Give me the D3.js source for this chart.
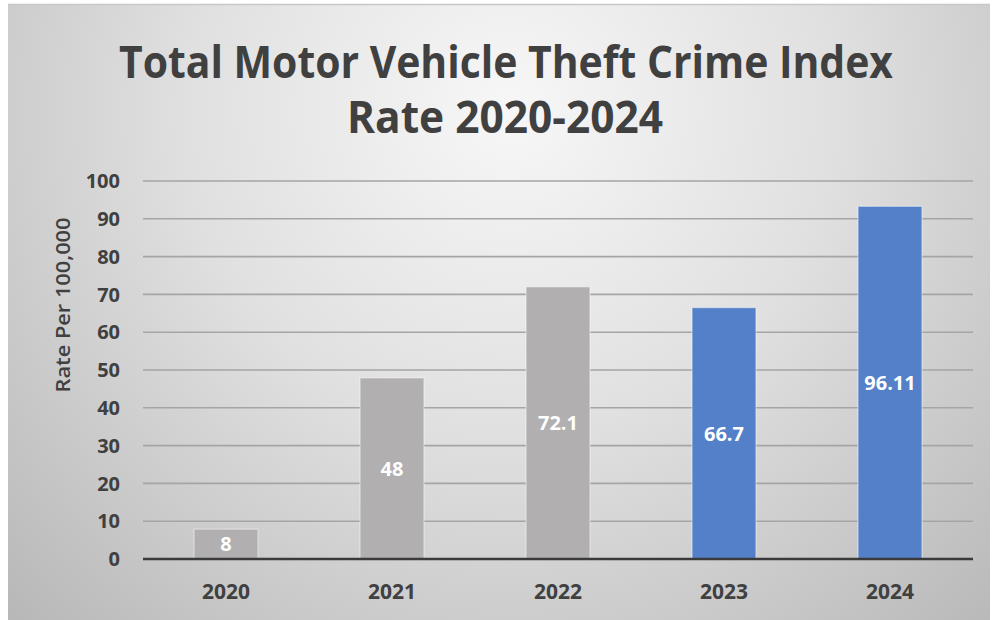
<!DOCTYPE html>
<html>
<head>
<meta charset="utf-8">
<script src="https://cdn.jsdelivr.net/npm/d3@7"></script>
<style>
  body { margin: 0; background: #fff; }
  svg { display: block; }
</style>
</head>
<body>
<script>
let w = 992;
let h = 620;

// Data
let years = ["2020", "2021", "2022", "2023", "2024"];
let rates = [7.9, 47.9, 72.0, 66.5, 93.3];      // bar heights as drawn
let labels = ["8", "48", "72.1", "66.7", "96.11"]; // data labels as printed
let barColors = ["#b1afaf", "#b1afaf", "#b1afaf", "#5380c8", "#5380c8"];
let yTicks = [0, 10, 20, 30, 40, 50, 60, 70, 80, 90, 100];

let margin = {top: 181, right: 19, bottom: 61, left: 143};

let svg = d3.select("body")
  .append("svg")
  .attr("width", w)
  .attr("height", h);

// Background gradient
let defs = svg.append("defs");
let grad = defs.append("radialGradient")
  .attr("id", "bg")
  .attr("gradientUnits", "userSpaceOnUse")
  .attr("cx", 510).attr("cy", 110)
  .attr("r", 720);
grad.append("stop").attr("offset", "0%").attr("stop-color", "#f7f7f7");
grad.append("stop").attr("offset", "45%").attr("stop-color", "#e0e0e0");
grad.append("stop").attr("offset", "100%").attr("stop-color", "#b7b7b7");

svg.append("rect")
  .attr("x", 8).attr("y", 4)
  .attr("width", 982).attr("height", 616)
  .attr("fill", "url(#bg)");
svg.append("line")
  .attr("x1", 8).attr("x2", 990)
  .attr("y1", 4.5).attr("y2", 4.5)
  .attr("stroke", "#c8c8c8")
  .attr("stroke-width", 1.5);

// Scales
let xScale = d3.scaleBand()
  .domain(years)
  .range([margin.left, w - margin.right])
  .paddingInner(0.615)
  .paddingOuter(0.3075);

let yScale = d3.scaleLinear()
  .domain([0, 100])
  .range([h - margin.bottom, margin.top]);

// Gridlines
svg.append("g")
  .selectAll("line")
  .data(yTicks.filter(d => d > 0))
  .enter()
  .append("line")
  .attr("x1", margin.left)
  .attr("x2", w - margin.right)
  .attr("y1", d => yScale(d))
  .attr("y2", d => yScale(d))
  .attr("stroke", "#a5a5a5")
  .attr("stroke-width", 1.6);

// Bars
svg.append("g")
  .selectAll("rect")
  .data(rates)
  .enter()
  .append("rect")
  .attr("x", (d, i) => xScale(years[i]))
  .attr("y", d => yScale(d))
  .attr("width", xScale.bandwidth())
  .attr("height", d => yScale(0) - yScale(d))
  .attr("fill", (d, i) => barColors[i])
  .attr("stroke", "rgba(255,255,255,0.45)")
  .attr("stroke-width", 1.2);

// Baseline
svg.append("line")
  .attr("x1", margin.left)
  .attr("x2", w - margin.right)
  .attr("y1", yScale(0))
  .attr("y2", yScale(0))
  .attr("stroke", "#3a3a3a")
  .attr("stroke-width", 2.6);

// Data labels, centred in the bar
svg.append("g")
  .selectAll("text")
  .data(rates)
  .enter()
  .append("text")
  .text((d, i) => labels[i])
  .attr("x", (d, i) => xScale(years[i]) + xScale.bandwidth() / 2)
  .attr("y", d => (yScale(d) + yScale(0)) / 2)
  .attr("dy", "0.36em")
  .attr("text-anchor", "middle")
  .attr("font-family", "'Open Sans', sans-serif")
  .attr("font-weight", "bold")
  .attr("font-size", "20px")
  .attr("fill", "#ffffff");

// Y tick labels
svg.append("g")
  .selectAll("text")
  .data(yTicks)
  .enter()
  .append("text")
  .text(d => d)
  .attr("x", 120)
  .attr("y", d => yScale(d))
  .attr("dy", "0.36em")
  .attr("text-anchor", "end")
  .attr("font-family", "'Open Sans', sans-serif")
  .attr("font-weight", "bold")
  .attr("font-size", "20px")
  .attr("fill", "#404040");

// X tick labels
svg.append("g")
  .selectAll("text")
  .data(years)
  .enter()
  .append("text")
  .text(d => d)
  .attr("x", d => xScale(d) + xScale.bandwidth() / 2)
  .attr("y", 591)
  .attr("dy", "0.36em")
  .attr("text-anchor", "middle")
  .attr("font-family", "'Open Sans', sans-serif")
  .attr("font-weight", "bold")
  .attr("font-size", "21px")
  .attr("fill", "#404040");

// Y axis title
svg.append("text")
  .text("Rate Per 100,000")
  .attr("transform", "translate(63,305) rotate(-90)")
  .attr("dy", "0.36em")
  .attr("text-anchor", "middle")
  .attr("textLength", 175)
  .attr("lengthAdjust", "spacingAndGlyphs")
  .attr("font-family", "'Open Sans', sans-serif")
  .attr("font-weight", 600)
  .attr("font-size", "20px")
  .attr("fill", "#404040");

// Title
let title = svg.append("text")
  .attr("text-anchor", "middle")
  .attr("font-family", "'Open Sans', sans-serif")
  .attr("font-weight", "bold")
  .attr("font-size", "44px")
  .attr("fill", "#404040");
title.append("tspan")
  .attr("x", 506).attr("y", 78)
  .attr("textLength", 774)
  .attr("lengthAdjust", "spacingAndGlyphs")
  .text("Total Motor Vehicle Theft Crime Index");
title.append("tspan")
  .attr("x", 505).attr("y", 133)
  .attr("textLength", 316)
  .attr("lengthAdjust", "spacingAndGlyphs")
  .text("Rate 2020-2024");
</script>
</body>
</html>
